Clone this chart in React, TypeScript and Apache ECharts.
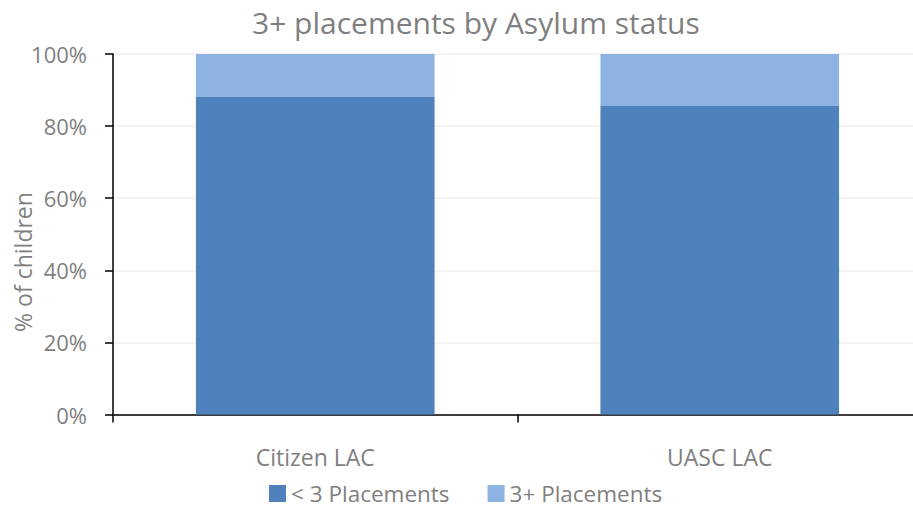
import React, { useEffect, useRef } from "react";
import * as echarts from "echarts";

const categories = ["Citizen LAC", "UASC LAC"];
const lessThan3 = [88.1, 85.6];
const threePlus = [11.9, 14.4];
const seriesNames = ["< 3 Placements", "3+ Placements"];
const titleText = "3+ placements by Asylum status";
const yAxisName = "% of children";

const FONT = "'Open Sans', sans-serif";
const GRAY = "#7f7f7f";

export default function App() {
  const ref = useRef<HTMLDivElement>(null);
  useEffect(() => {
    if (!ref.current) return;
    const chart = echarts.init(ref.current, undefined, { renderer: "svg" });
    chart.setOption({
      animation: false,
      backgroundColor: "#ffffff",
      textStyle: { fontFamily: FONT },
      title: {
        text: titleText,
        left: 247,
        top: 2,
        textStyle: { fontFamily: FONT, fontSize: 30, fontWeight: "normal", color: GRAY },
      },
      legend: {
        left: 269,
        top: 482,
        padding: 0,
        itemWidth: 17,
        itemHeight: 17,
        itemGap: 38,
        icon: "rect",
        textStyle: { fontFamily: FONT, fontSize: 22.5, lineHeight: 20, color: GRAY },
        data: seriesNames,
      },
      graphic: [
        {
          type: "text",
          x: 23,
          y: 262,
          rotation: Math.PI / 2,
          style: {
            text: yAxisName,
            fontFamily: FONT,
            fontSize: 23,
            fill: GRAY,
            textAlign: "center",
            textVerticalAlign: "middle",
          },
        },
      ],
      grid: { left: 113, top: 54, right: -9, bottom: 93.5, outerBoundsMode: "none", containLabel: false },
      xAxis: {
        type: "category",
        data: categories,
        axisLine: { show: true, lineStyle: { color: "#000", width: 1.5 } },
        axisTick: { show: true, length: 8, lineStyle: { color: "#000", width: 1.5 } },
        axisLabel: { fontFamily: FONT, fontSize: 23, color: GRAY, margin: 31 },
      },
      yAxis: {
        type: "value",
        min: 0,
        max: 100,
        interval: 20,
        axisLine: { show: true, lineStyle: { color: "#000", width: 1.5 } },
        axisTick: { show: true, length: 8, lineStyle: { color: "#000", width: 1.5 } },
        axisLabel: { fontFamily: FONT, fontSize: 22, color: GRAY, margin: 26, formatter: "{value}%" },
        splitLine: { show: true, lineStyle: { color: "#efefef", width: 1.5 } },
      },
      series: [
        {
          name: seriesNames[0],
          type: "bar",
          stack: "total",
          data: lessThan3,
          barWidth: "59%",
          itemStyle: { color: "#4f81bd" },
        },
        {
          name: seriesNames[1],
          type: "bar",
          stack: "total",
          data: threePlus,
          barWidth: "59%",
          itemStyle: { color: "#8db3e3" },
        },
      ],
    });
    return () => chart.dispose();
  }, []);
  return (
    <div
      ref={ref}
      style={{ position: "fixed", left: 0, top: 0, width: 913, height: 508 }}
    />
  );
}
